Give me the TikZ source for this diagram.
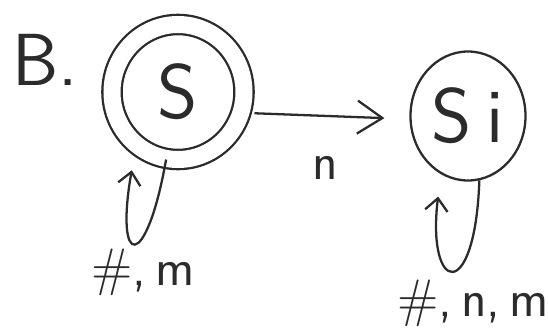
\documentclass[tikz,border=0pt]{standalone}
\usetikzlibrary{arrows.meta, positioning, shapes.geometric}
\definecolor{ink}{HTML}{2B2B2B}

\begin{document}
\begin{tikzpicture}[
    every node/.style={font=\sffamily, text=ink},
    stnode/.style={ellipse, draw=ink, line width=1.3pt, inner sep=0pt, font=\sffamily\fontsize{44}{46}\selectfont},
    accept/.style={double, double distance=0.34cm},
    trans/.style={draw=ink, line width=1.3pt, -{Straight Barb[length=5mm, width=6.6mm, line width=1.3pt]}},
    selfloop/.style={draw=ink, line width=1.3pt, -{Straight Barb[length=2.5mm, width=4.5mm, line width=1.3pt]}},
    tlab/.style={font=\sffamily\fontsize{30}{32}\selectfont}
]
\useasboundingbox (0,0) rectangle (10.96,6.6);

% Part label
\node[anchor=west, font=\sffamily\fontsize{42}{44}\selectfont] (part) at (0.12,5.4) {B.};

% States
\node[stnode, accept, minimum width=2.64cm, minimum height=2.7cm] (s) at (3.56,4.76) {S};
\node[stnode, minimum width=2.3cm, minimum height=2.58cm] (si) at (9.36,4.28) {S\kern0.3cm i};

% Transition
\draw[trans, shorten <=0.25cm, shorten >=0.5cm] (s.-18) -- (si.183)
    node[tlab, midway, yshift=-1.05cm] (lab-n) {n};

% Self-loops
\draw[selfloop, shorten >=0.5cm] (s.-100) .. controls +(-100:2.3) and +(-100:2.5) .. (s.-128)
    node[tlab, pos=0.5, xshift=0.15cm, yshift=-0.62cm] (lab-s) {\#,\,m};
\draw[selfloop, shorten >=0.45cm] (si.-80) .. controls +(-92:2.5) and +(-97:2.4) .. (si.-115)
    node[tlab, pos=0.5, xshift=0.4cm, yshift=-0.7cm] (lab-si) {\#,\,n,\,m};
\end{tikzpicture}
\end{document}
